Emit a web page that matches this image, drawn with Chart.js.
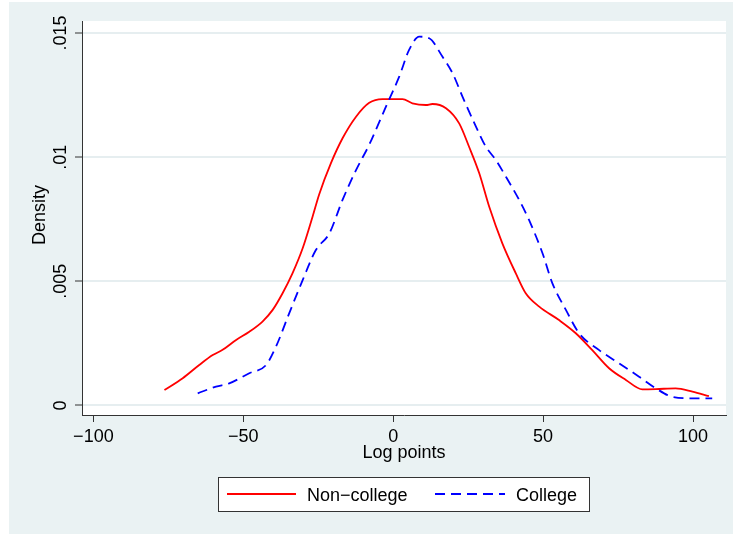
<!DOCTYPE html>
<html>
<head>
<meta charset="utf-8">
<script src="https://cdn.jsdelivr.net/npm/chart.js@4.4.0/dist/chart.umd.min.js"></script>
<style>
  body { margin: 0; background: #fff; }
  canvas { display: block; }
</style>
</head>
<body>
<canvas id="densityChart" width="733" height="534"></canvas>
<script>
// kernel density of log points
const nonCollegeX = [-76.3, -70.2, -64.7, -60.2, -56.9, -52.4, -48.0, -43.6, -40.2, -36.9, -33.6, -30.2, -26.9, -24.7, -20.8, -16.9, -12.4, -8.0, -3.6, 3.1, 6.4, 10.9, 13.1, 17.6, 22.0, 25.3, 28.7, 32.0, 36.4, 40.9, 44.2, 48.7, 55.3, 60.9, 66.4, 72.0, 77.6, 83.1, 87.6, 94.2, 99.8, 105.3];
const nonCollegeY = [0.00062, 0.00110, 0.00163, 0.00203, 0.00224, 0.00264, 0.00297, 0.00338, 0.00385, 0.00452, 0.00532, 0.00633, 0.00760, 0.00850, 0.00975, 0.01076, 0.01163, 0.01219, 0.01234, 0.01234, 0.01217, 0.01210, 0.01214, 0.01197, 0.01136, 0.01042, 0.00935, 0.00801, 0.00653, 0.00532, 0.00452, 0.00398, 0.00344, 0.00291, 0.00223, 0.00150, 0.00103, 0.00065, 0.00066, 0.00069, 0.00056, 0.00038];

const collegeX = [-65.2, -59.1, -54.7, -48.0, -42.4, -39.1, -34.7, -30.2, -25.8, -21.3, -16.9, -12.4, -8.0, -4.7, -1.3, 2.0, 5.3, 8.7, 12.0, 16.4, 19.8, 23.1, 27.6, 30.9, 34.2, 37.6, 42.0, 45.3, 49.8, 53.1, 57.6, 62.0, 68.7, 75.3, 82.0, 87.6, 93.1, 99.8, 106.4];
const collegeY = [0.00049, 0.00076, 0.00089, 0.00130, 0.00163, 0.00237, 0.00371, 0.00505, 0.00626, 0.00693, 0.00828, 0.00948, 0.01050, 0.01140, 0.01234, 0.01324, 0.01432, 0.01485, 0.01479, 0.01405, 0.01338, 0.01244, 0.01123, 0.01042, 0.00989, 0.00921, 0.00828, 0.00747, 0.00613, 0.00492, 0.00385, 0.00291, 0.00223, 0.00170, 0.00116, 0.00069, 0.00035, 0.00029, 0.00029];

const xTicks = [-100, -50, 0, 50, 100];
const xTickLabels = ['\u2212100', '\u221250', '0', '50', '100'];
const yTicks = [0, 0.005, 0.01, 0.015];
const yTickLabels = ['0', '.005', '.01', '.015'];

const FONT = '"Liberation Sans", Arial, sans-serif';
const toPoints = (xs, ys) => xs.map((x, i) => ({ x: x, y: ys[i] }));

// stata style frame, rotated y labels, titles and boxed legend
const stataLook = {
    id: 'stataLook',
    beforeDraw(chart) {
        const { ctx, chartArea: a } = chart;
        ctx.save();
        ctx.fillStyle = '#fff';
        ctx.fillRect(0, 0, chart.width, chart.height);
        ctx.fillStyle = '#EAF2F3';
        ctx.fillRect(9, 2, chart.width - 9, chart.height - 2);
        ctx.fillStyle = '#fff';
        ctx.fillRect(a.left, a.top, a.right - a.left, a.bottom - a.top);
        ctx.restore();
    },
    afterDraw(chart) {
        const { ctx, chartArea: a } = chart;
        const y = chart.scales.y;
        ctx.save();
        ctx.fillStyle = '#000';
        ctx.font = '18px ' + FONT;
        ctx.textAlign = 'center';
        ctx.textBaseline = 'alphabetic';

        // y tick labels, rotated
        yTicks.forEach((v, i) => {
            ctx.save();
            ctx.translate(66, y.getPixelForValue(v));
            ctx.rotate(-Math.PI / 2);
            ctx.fillText(yTickLabels[i], 0, 0);
            ctx.restore();
        });

        // axis titles
        ctx.save();
        ctx.translate(45, (a.top + a.bottom) / 2 - 3);
        ctx.rotate(-Math.PI / 2);
        ctx.fillText('Density', 0, 0);
        ctx.restore();
        ctx.fillText('Log points', (a.left + a.right) / 2, 458);

        // legend
        ctx.fillStyle = '#fff';
        ctx.fillRect(218.5, 477.5, 371, 34);
        ctx.strokeStyle = '#333';
        ctx.lineWidth = 1;
        ctx.strokeRect(218.5, 477.5, 371, 34);
        const items = [
            { ds: chart.data.datasets[0], x0: 227, x1: 296, tx: 307 },
            { ds: chart.data.datasets[1], x0: 435, x1: 505, tx: 516 }
        ];
        items.forEach(it => {
            ctx.strokeStyle = it.ds.borderColor;
            ctx.lineWidth = it.ds.borderWidth;
            ctx.setLineDash(it.ds.borderDash || []);
            ctx.beginPath();
            ctx.moveTo(it.x0, 494);
            ctx.lineTo(it.x1, 494);
            ctx.stroke();
            ctx.setLineDash([]);
            ctx.fillStyle = '#000';
            ctx.textAlign = 'left';
            ctx.fillText(it.ds.label, it.tx, 500.5);
        });
        ctx.restore();
    }
};

new Chart(document.getElementById('densityChart'), {
    type: 'line',
    data: {
        datasets: [
            {
                label: 'Non\u2212college',
                data: toPoints(nonCollegeX, nonCollegeY),
                borderColor: '#FF0000',
                borderWidth: 1.8,
                pointRadius: 0,
                cubicInterpolationMode: 'monotone',
                order: 1
            },
            {
                label: 'College',
                data: toPoints(collegeX, collegeY),
                borderColor: '#0000FF',
                borderWidth: 1.8,
                borderDash: [10, 6],
                pointRadius: 0,
                cubicInterpolationMode: 'monotone',
                order: 0
            }
        ]
    },
    options: {
        responsive: false,
        animation: false,
        devicePixelRatio: 1,
        layout: { padding: { left: 0, right: 7, top: 21, bottom: 0 } },
        plugins: {
            legend: { display: false },
            tooltip: { enabled: false }
        },
        scales: {
            x: {
                type: 'linear',
                min: -103.8,
                max: 111,
                afterBuildTicks: s => { s.ticks = xTicks.map(v => ({ value: v })); },
                afterFit: s => { s.height = 119; },
                grid: { drawOnChartArea: false, drawTicks: true, tickLength: 7, tickColor: '#333', tickWidth: 1 },
                border: { color: '#333', width: 1 },
                ticks: {
                    color: '#000',
                    font: { family: FONT, size: 18 },
                    padding: 4,
                    maxRotation: 0,
                    callback: v => xTickLabels[xTicks.indexOf(v)]
                }
            },
            y: {
                min: -0.000383,
                max: 0.015483,
                afterBuildTicks: s => { s.ticks = yTicks.map(v => ({ value: v })); },
                afterFit: s => { s.width = 82; },
                grid: { color: '#E6EEF0', lineWidth: 2, drawTicks: true, tickLength: 7, tickColor: '#333', tickWidth: 1 },
                border: { color: '#333', width: 1 },
                ticks: { display: false }
            }
        }
    },
    plugins: [stataLook]
});
</script>
</body>
</html>
